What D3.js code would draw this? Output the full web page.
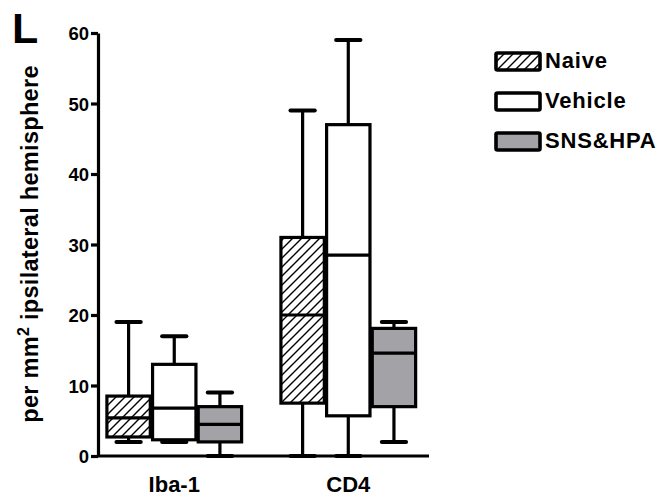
<!DOCTYPE html>
<html lang="en">
<head>
<meta charset="utf-8">
<title>Box plot: cells per mm2</title>
<script src="https://cdn.jsdelivr.net/npm/d3@7"></script>
<style>
  body { margin: 0; background: #fff; }
  svg text { font-family: "Liberation Sans", Arial, sans-serif; font-weight: bold; fill: #000; }
</style>
</head>
<body>
<script>
// data: [whisker low, Q1, median, Q3, whisker high] for each group
var groups = ["Iba-1", "CD4"];
var series = ["Naive", "Vehicle", "SNS&HPA"];
var naive   = [[2, 2.7, 5.4, 8.5, 19], [0, 7.5, 20, 31, 49]];
var vehicle = [[2, 2.3, 6.8, 13, 17], [0, 5.7, 28.5, 47, 59]];
var snsHpa  = [[0, 2, 4.5, 7, 9],     [2, 7, 14.6, 18.1, 19]];
var yTicks  = [0, 10, 20, 30, 40, 50, 60];

var stats = [naive, vehicle, snsHpa];
var fills = ["url(#hatch)", "#fff", "#a3a3a7"];

var w = 667, h = 500;
var svg = d3.select("body").append("svg").attr("width", w).attr("height", h);

// diagonal hatch for the Naive boxes
var pat = svg.append("defs").append("pattern")
  .attr("id", "hatch").attr("patternUnits", "userSpaceOnUse")
  .attr("width", 9).attr("height", 9);
pat.append("rect").attr("width", 9).attr("height", 9).attr("fill", "#fff");
pat.append("path").attr("d", "M0,9L9,0M-2,2L2,-2M7,11L11,7")
  .attr("stroke", "#000").attr("stroke-width", 1.4);

var y = d3.scaleLinear().domain([0, 60]).range([456, 33]);
var x = d3.scaleBand().domain(groups).range([98, 429])
  .paddingInner(0.226).paddingOuter(0.064).align(0.4);
var xs = d3.scaleBand().domain(series).range([0, x.bandwidth()]).paddingInner(0.05);

// boxes
var g = svg.append("g");
series.forEach(function(s, si) {
  groups.forEach(function(grp, gi) {
    var d = stats[si][gi];
    var x0 = x(grp) + xs(s), bw = xs.bandwidth(), cx = x0 + bw / 2, cap = bw * 0.28;
    var b = g.append("g").attr("stroke", "#000").attr("stroke-width", 3.2);
    b.append("line").attr("x1", cx).attr("x2", cx).attr("y1", y(d[3])).attr("y2", y(d[4]));
    b.append("line").attr("x1", cx).attr("x2", cx).attr("y1", y(d[1])).attr("y2", y(d[0]));
    b.append("line").attr("x1", cx - cap).attr("x2", cx + cap).attr("y1", y(d[4])).attr("y2", y(d[4]))
      .attr("stroke-width", 4).attr("stroke-linecap", "round");
    b.append("line").attr("x1", cx - cap).attr("x2", cx + cap).attr("y1", y(d[0])).attr("y2", y(d[0]))
      .attr("stroke-width", 4).attr("stroke-linecap", "round");
    b.append("rect").attr("x", x0).attr("width", bw)
      .attr("y", y(d[3])).attr("height", y(d[1]) - y(d[3]))
      .attr("fill", fills[si]);
    b.append("line").attr("x1", x0).attr("x2", x0 + bw).attr("y1", y(d[2])).attr("y2", y(d[2]));
  });
});

// axes
var yAxis = svg.append("g").attr("transform", "translate(98,0)")
  .call(d3.axisLeft(y).tickValues(yTicks).tickSize(7).tickSizeOuter(0).tickPadding(2));
var xAxis = svg.append("g").attr("transform", "translate(0,456)")
  .call(d3.axisBottom(x).tickSize(0).tickSizeOuter(0).tickPadding(20));
[yAxis, xAxis].forEach(function(a) {
  a.select(".domain").attr("stroke-width", 3.2);
  a.selectAll(".tick line").attr("stroke-width", 3.2);
});
yAxis.selectAll(".tick text").attr("font-size", 18.5).attr("font-family", null).attr("dy", "0.36em");
xAxis.selectAll(".tick text").attr("font-size", 22).attr("font-family", null);
xAxis.select(".domain").attr("d", "M98,0H429");

// y title
var yt = svg.append("text").attr("transform", "translate(37.5,244) rotate(-90)")
  .attr("text-anchor", "middle").attr("font-size", 23.5).attr("letter-spacing", 0.3);
yt.append("tspan").text("per mm");
yt.append("tspan").attr("dy", -9).attr("font-size", 16).text("2");
yt.append("tspan").attr("dy", 9).text(" ipsilateral hemisphere");

// panel letter
svg.append("text").attr("x", 12).attr("y", 43).attr("font-size", 43).text("L");

// legend
var leg = svg.append("g").selectAll("g").data(series).enter().append("g")
  .attr("transform", function(d, i) { return "translate(496," + (53 + i * 40) + ")"; });
leg.append("rect").attr("width", 44).attr("height", 17).attr("rx", 1.5)
  .attr("fill", function(d, i) { return fills[i]; })
  .attr("stroke", "#000").attr("stroke-width", 3.6);
leg.append("text").attr("x", 49).attr("y", 14.5).attr("font-size", 22).attr("letter-spacing", 0.8)
  .text(function(d) { return d; });
</script>
</body>
</html>
